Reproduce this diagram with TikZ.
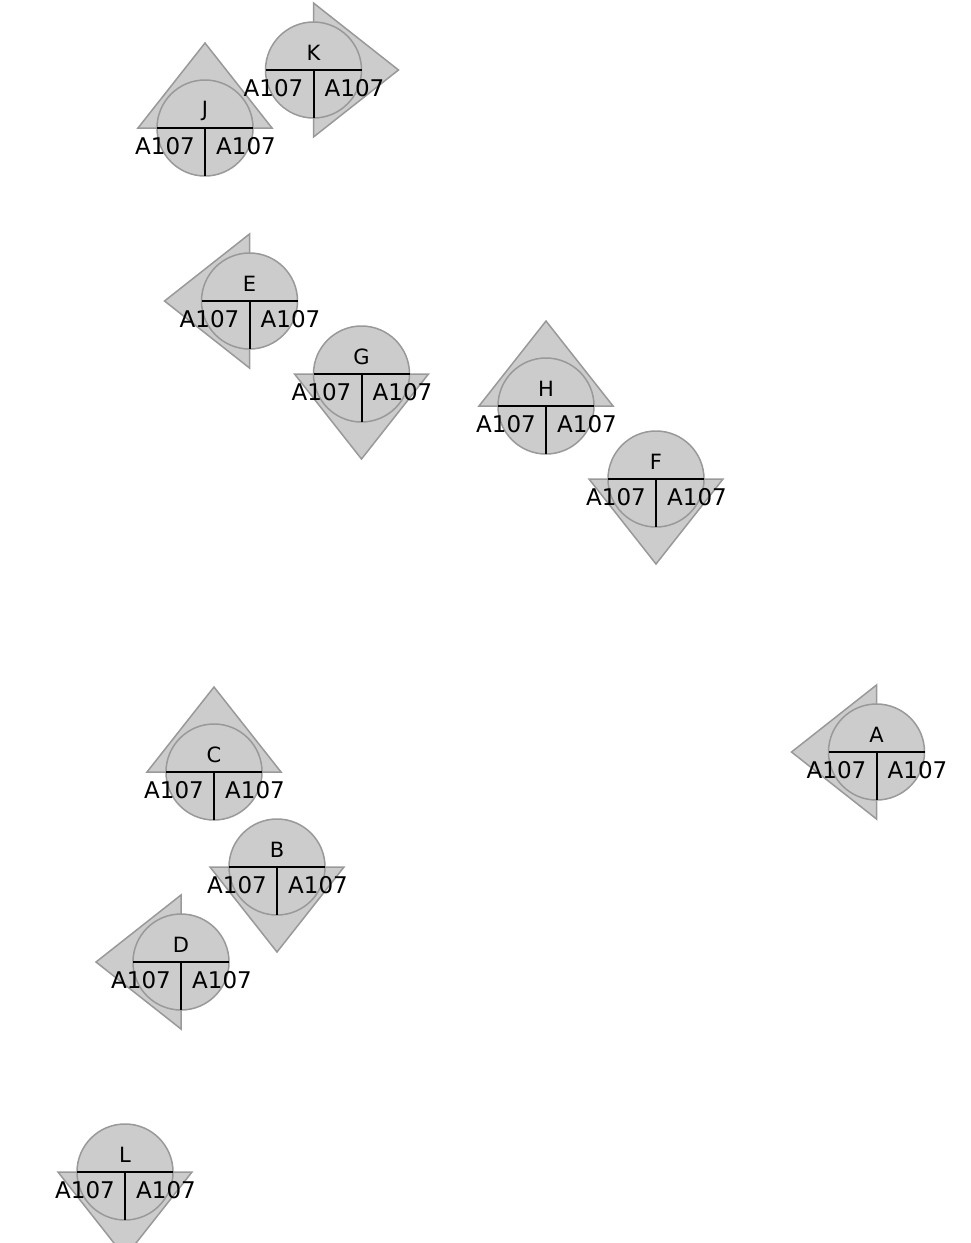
\documentclass[tikz,border=0pt]{standalone}
\usepackage{fontspec}
\setmainfont{DejaVu Sans}
\definecolor{shade}{HTML}{CCCCCC}
\definecolor{rim}{HTML}{999999}
\begin{document}
\begin{tikzpicture}[x=0.5pt, y=-0.5pt,
  tri/.style={fill=shade, draw=rim, line width=0.75pt},
  disc/.style={circle, fill=shade, draw=rim, line width=0.75pt,
    minimum size=48pt, inner sep=0pt, outer sep=0pt},
  head/.style={font=\fontsize{10.5}{11}\selectfont, inner sep=0pt},
  part/.style={font=\fontsize{11.5}{12}\selectfont, inner sep=0pt},
  bar/.style={black, line width=1pt}]
  \useasboundingbox (0,0) rectangle (970,1243);

  % name / x / y / turn of the triangle (0 up, 90 left, 180 down, -90 right)
  \foreach \n/\px/\py/\a in {A/876.5/752/90, B/277/867/180, C/214/772/0,
      D/181/962/90, E/249.5/301/90, F/656/479/180, G/361.5/374/180,
      H/546/406/0, J/205/128/0, K/313.5/70/-90, L/125/1172/180} {
    \begin{scope}[shift={(\px,\py)}]
      \draw[tri, rotate=\a] (-67,0) -- (0,-85) -- (67,0) -- cycle;
      \node[disc] (\n) at (0,0) {};
      \draw[bar] (\n.west) -- (\n.east);
      \draw[bar] (\n.center) -- (\n.south);
      \node[head] (\n-t) at (0,-17) {\n};
      \node[part] (\n-l) at (-40,18) {A107};
      \node[part] (\n-r) at (41,18) {A107};
    \end{scope}
  }
\end{tikzpicture}
\end{document}
